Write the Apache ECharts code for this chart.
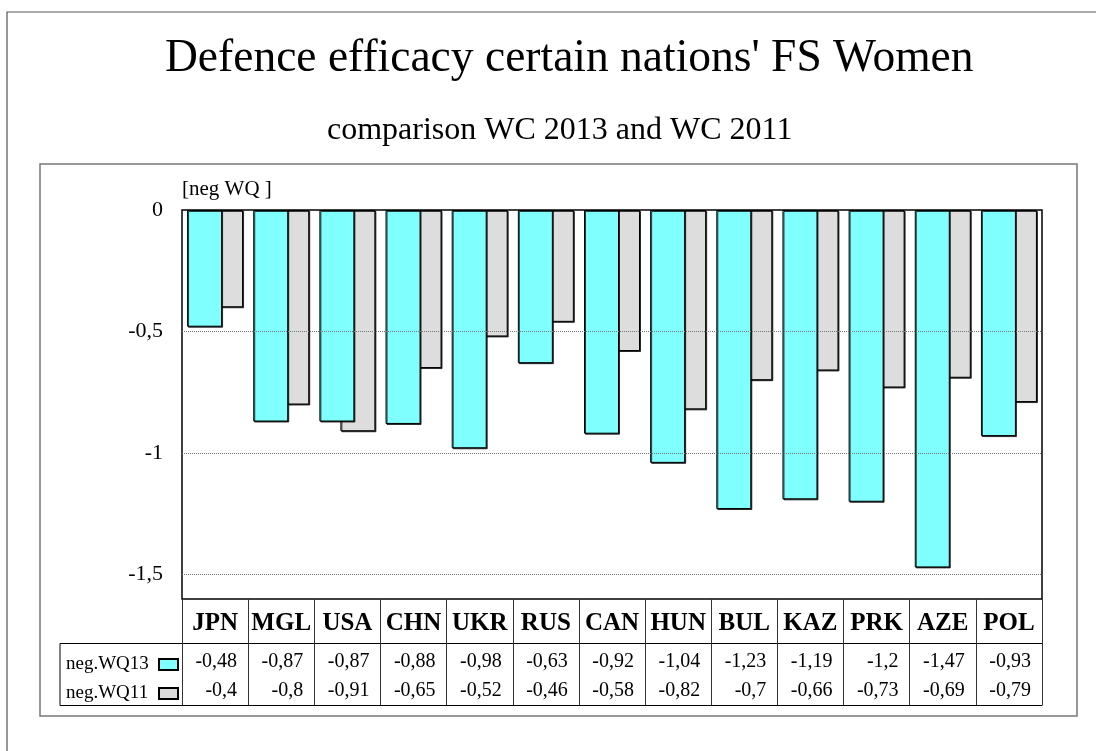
<!DOCTYPE html>
<html>
<head>
<meta charset="utf-8">
<script src="https://cdn.jsdelivr.net/npm/echarts@6/dist/echarts.min.js"></script>
<style>
  html, body { margin: 0; padding: 0; background: #fff; }
  #chart { width: 1096px; height: 751px; }
</style>
</head>
<body>
<div id="chart"></div>
<script>
// nations in the order of the table
const countries = ['JPN', 'MGL', 'USA', 'CHN', 'UKR', 'RUS', 'CAN', 'HUN', 'BUL', 'KAZ', 'PRK', 'AZE', 'POL']
// negative WQ, WC 2013
const wq13 = [-0.48, -0.87, -0.87, -0.88, -0.98, -0.63, -0.92, -1.04, -1.23, -1.19, -1.2, -1.47, -0.93]
// negative WQ, WC 2011
const wq11 = [-0.4, -0.8, -0.91, -0.65, -0.52, -0.46, -0.58, -0.82, -0.7, -0.66, -0.73, -0.69, -0.79]
const yTicks = [0, -0.5, -1, -1.5]
const gridValues = [-0.5, -1, -1.5]

const serif = 'Liberation Serif'
const comma = v => String(v).replace('.', ',')

const chart = echarts.init(document.getElementById('chart'))

const options = {
  backgroundColor: '#fff',
  animation: false,
  title: [
    {
      text: "Defence efficacy certain nations' FS Women",
      left: 160,
      top: 31,
      textStyle: { fontFamily: serif, fontWeight: 'normal', fontSize: 45.5, color: '#000' }
    },
    {
      text: 'comparison WC 2013 and WC 2011',
      left: 322,
      top: 110,
      textStyle: { fontFamily: serif, fontWeight: 'normal', fontSize: 32, color: '#000' }
    }
  ],
  legend: {
    data: ['neg.WQ13', 'neg.WQ11'],
    orient: 'vertical',
    left: 61,
    top: 650,
    align: 'right',
    icon: 'rect',
    itemWidth: 19,
    itemHeight: 11,
    itemGap: 10,
    formatter: name => '{a|' + name + '}',
    textStyle: {
      color: '#000',
      rich: {
        a: { width: 88, align: 'left', fontFamily: serif, fontSize: 19, lineHeight: 20, color: '#000' }
      }
    }
  },
  grid: {
    left: 182,
    top: 210,
    width: 860,
    height: 389,
    show: true,
    backgroundColor: '#fff',
    borderColor: '#000',
    borderWidth: 1.5
  },
  xAxis: [
    {
      // header row of the table
      type: 'category',
      position: 'bottom',
      data: countries,
      axisLine: { show: false, onZero: false },
      axisTick: { show: true, interval: 0, length: 106, lineStyle: { color: '#333', width: 1 } },
      axisLabel: {
        interval: 0,
        margin: 12,
        fontFamily: serif,
        fontWeight: 'bold',
        fontSize: 25,
        color: '#000'
      }
    },
    {
      // row neg.WQ13
      type: 'category',
      position: 'bottom',
      offset: 44,
      data: countries,
      axisLine: { show: true, onZero: false, lineStyle: { color: '#000', width: 1 } },
      axisTick: { show: false },
      axisLabel: {
        interval: 0,
        margin: 9,
        formatter: (value, index) => '{v|' + comma(wq13[index]) + '}',
        rich: { v: { width: 44, align: 'right', fontFamily: serif, fontSize: 20, color: '#000' } }
      }
    },
    {
      // row neg.WQ11
      type: 'category',
      position: 'bottom',
      offset: 106,
      data: countries,
      axisLine: { show: true, onZero: false, lineStyle: { color: '#000', width: 1 } },
      axisTick: { show: false },
      axisLabel: {
        interval: 0,
        inside: true,
        margin: 4,
        formatter: (value, index) => '{v|' + comma(wq11[index]) + '}',
        rich: { v: { width: 44, align: 'right', fontFamily: serif, fontSize: 20, color: '#000' } }
      }
    }
  ],
  yAxis: {
    type: 'value',
    min: -1.6,
    max: 0,
    interval: 0.1,
    name: '[neg WQ ]',
    nameLocation: 'end',
    nameGap: 10,
    nameTextStyle: { align: 'left', fontFamily: serif, fontSize: 21, color: '#000' },
    axisLine: { show: false },
    axisTick: { show: false },
    splitLine: { show: false },
    axisLabel: {
      margin: 19,
      fontFamily: serif,
      fontSize: 22,
      color: '#000',
      formatter: function (value) {
        const hit = yTicks.find(t => Math.abs(t - value) < 1e-6)
        return hit === undefined ? '' : comma(hit)
      }
    }
  },
  series: [
    {
      name: 'neg.WQ13',
      type: 'bar',
      xAxisIndex: 0,
      data: wq13,
      barWidth: 35,
      barGap: '-40%',
      z: 3,
      itemStyle: {
        color: '#80ffff',
        borderColor: '#000',
        borderWidth: 1,
        shadowColor: 'rgba(0,0,0,0.75)',
        shadowOffsetX: 1,
        shadowOffsetY: 1
      }
    },
    {
      name: 'neg.WQ11',
      type: 'bar',
      xAxisIndex: 0,
      data: wq11,
      barWidth: 35,
      barGap: '-40%',
      z: 2,
      itemStyle: {
        color: '#dddddd',
        borderColor: '#000',
        borderWidth: 1,
        shadowColor: 'rgba(0,0,0,0.75)',
        shadowOffsetX: 1,
        shadowOffsetY: 1
      }
    },
    {
      // holder for the dotted gridlines, kept under the bars
      name: 'grid',
      type: 'line',
      xAxisIndex: 0,
      data: [],
      z: 1,
      silent: true,
      markLine: {
        silent: true,
        symbol: ['none', 'none'],
        label: { show: false },
        lineStyle: { type: 'dotted', color: '#777', width: 1 },
        data: gridValues.map(v => ({ yAxis: v }))
      }
    }
  ],
  graphic: [
    // outer frame
    { type: 'rect', shape: { x: 7, y: 12, width: 1100, height: 800 }, style: { fill: null, stroke: '#555', lineWidth: 1.2 }, z: -1 },
    // chart area frame
    { type: 'rect', shape: { x: 40, y: 164, width: 1037, height: 552 }, style: { fill: null, stroke: '#777', lineWidth: 1.5 }, z: -1 },
    // legend cell of the data table
    { type: 'polyline', shape: { points: [[182, 643.5], [60, 643.5], [60, 705.5], [182, 705.5]] }, style: { fill: null, stroke: '#000', lineWidth: 1 } }
  ]
}

chart.setOption(options)
</script>
</body>
</html>
